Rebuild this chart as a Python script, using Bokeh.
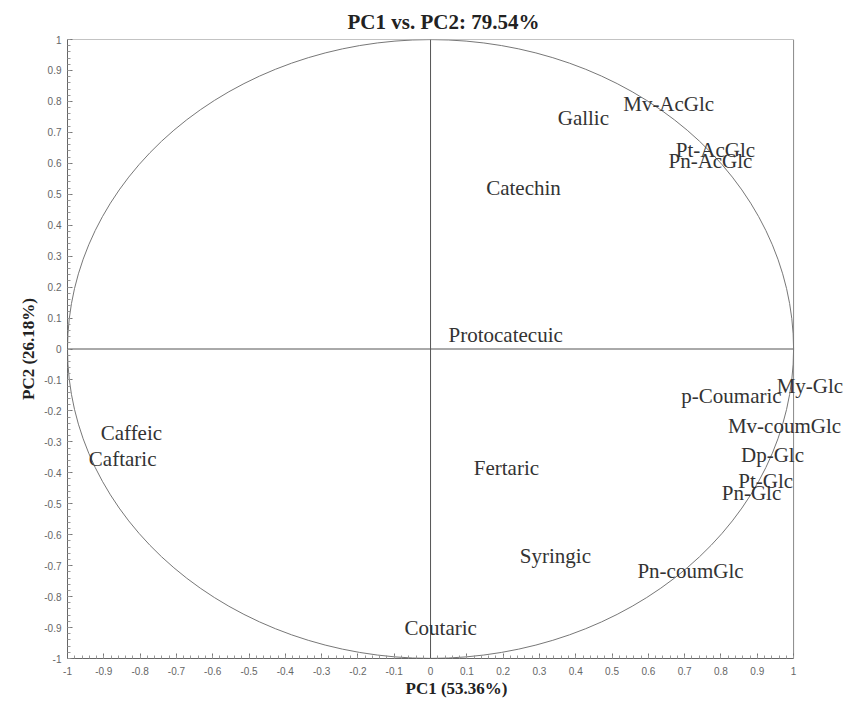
from bokeh.plotting import figure
from bokeh.models import FixedTicker, Range1d, Span, ColumnDataSource, LabelSet
from bokeh.embed import file_html
from bokeh.resources import INLINE

# ---- data ----
labels = ["Mv-AcGlc", "Gallic", "Pt-AcGlc", "Pn-AcGlc", "Catechin", "Protocatecuic",
          "My-Glc", "p-Coumaric", "Mv-coumGlc", "Dp-Glc", "Pt-Glc", "Pn-Glc",
          "Caffeic", "Caftaric", "Fertaric", "Syringic", "Pn-coumGlc", "Coutaric"]
pc1 = [0.656, 0.421, 0.785, 0.771, 0.256, 0.207,
       1.045, 0.829, 0.975, 0.942, 0.923, 0.884,
       -0.824, -0.848, 0.209, 0.344, 0.716, 0.028]
pc2 = [0.793, 0.745, 0.642, 0.607, 0.520, 0.045,
       -0.119, -0.151, -0.250, -0.343, -0.427, -0.465,
       -0.273, -0.356, -0.385, -0.668, -0.716, -0.902]

tick_values = [-1.0, -0.9, -0.8, -0.7, -0.6, -0.5, -0.4, -0.3, -0.2, -0.1, 0.0,
               0.1, 0.2, 0.3, 0.4, 0.5, 0.6, 0.7, 0.8, 0.9, 1.0]
tick_labels = ["-1", "-0.9", "-0.8", "-0.7", "-0.6", "-0.5", "-0.4", "-0.3", "-0.2", "-0.1", "0",
               "0.1", "0.2", "0.3", "0.4", "0.5", "0.6", "0.7", "0.8", "0.9", "1"]
minor_ticks = [round(-1 + 0.02 * i, 2) for i in range(101)]

title_text = "PC1 vs. PC2: 79.54%"
xlabel = "PC1 (53.36%)"
ylabel = "PC2 (26.18%)"

lo, hi = tick_values[0], tick_values[-1]

# ---- figure ----
# the frame reaches a little past x = 1 so that labels near the circle's right edge are not cut
p = figure(width=845, height=700, output_backend="svg", toolbar_location=None,
           x_range=Range1d(lo, 1.143), y_range=Range1d(lo, hi),
           min_border_left=67, min_border_right=0, min_border_top=39, min_border_bottom=40)

p.title.text = title_text
p.title.align = "left"
p.title.offset = 280
p.title.text_font = "Liberation Serif"
p.title.text_font_size = "21px"
p.title.text_font_style = "bold"
p.title.text_color = "#222222"
p.title.standoff = 12

p.grid.visible = False
p.outline_line_color = None
p.background_fill_color = "white"
p.border_fill_color = "white"

ovr = {v: s for v, s in zip(tick_values, tick_labels)}
for ax in (p.xaxis[0], p.yaxis[0]):
    ax.ticker = FixedTicker(ticks=tick_values, minor_ticks=minor_ticks)
    ax.major_label_overrides = ovr
    ax.major_label_text_font = "Liberation Sans"
    ax.major_label_text_font_size = "10px"
    ax.major_label_text_color = "#666666"
    ax.axis_line_color = "#666666"
    ax.major_tick_line_color = "#777777"
    ax.minor_tick_line_color = "#999999"
    ax.major_tick_in = 5
    ax.major_tick_out = 0
    ax.minor_tick_in = 3
    ax.minor_tick_out = 0
    ax.axis_label_text_font = "Liberation Serif"
    ax.axis_label_text_font_style = "bold"
    ax.axis_label_text_font_size = "17px"
    ax.axis_label_text_color = "#222222"

p.xaxis.bounds = (lo, hi)
p.xaxis.axis_label = xlabel
p.yaxis.axis_label = ylabel
p.xaxis.major_label_standoff = 8
p.xaxis.axis_label_standoff = 1
p.yaxis.major_label_standoff = 6
p.yaxis.axis_label_standoff = 3

# plot box (top / right border)
p.quad(left=lo, right=hi, bottom=lo, top=hi, fill_color=None, line_color="#888888", line_width=1)

# zero lines
p.line(x=[lo, hi], y=[0, 0], line_color="#555555", line_width=1)
p.add_layout(Span(location=0, dimension="height", line_color="#555555", line_width=1))

# correlation circle
p.ellipse(x=0, y=0, width=2, height=2, fill_color=None, line_color="#777777", line_width=1)

src = ColumnDataSource(dict(x=pc1, y=pc2, t=labels))
p.add_layout(LabelSet(x="x", y="y", text="t", source=src, text_align="center",
                      text_baseline="middle", text_font="Liberation Serif",
                      text_font_size="21px", text_color="#333333"))

open("out.html", "w").write(file_html(p, INLINE))
